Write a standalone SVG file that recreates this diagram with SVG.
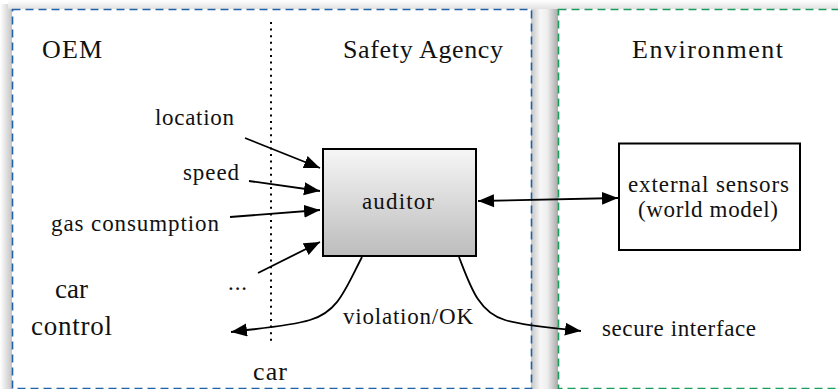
<svg xmlns="http://www.w3.org/2000/svg" width="838" height="389" viewBox="0 0 838 389" font-family="'Liberation Serif', 'DejaVu Serif', 'Times New Roman', serif">
<style>
text{font-family:"Liberation Serif","DejaVu Serif","Times New Roman",serif;fill:#111}
.t{font-size:26px}
.s{font-size:23px}
.b{font-size:27px}
.conn{fill:none;stroke:#000;stroke-width:1.8}
.zone{fill:none;stroke-width:1.6;stroke-dasharray:8 5}
</style>
<defs>
<marker id="ah" markerUnits="userSpaceOnUse" markerWidth="18" markerHeight="14" refX="16" refY="6.5" orient="auto">
<path d="M0,0 L16,6.5 L0,13 Z" fill="#000"/>
</marker>
<marker id="as" markerUnits="userSpaceOnUse" markerWidth="18" markerHeight="14" refX="0" refY="6.5" orient="auto">
<path d="M16,0 L0,6.5 L16,13 Z" fill="#000"/>
</marker>
<linearGradient id="gAud" x1="0" y1="0" x2="0" y2="1">
<stop offset="0" stop-color="#f6f6f6"/>
<stop offset="1" stop-color="#bcbcbc"/>
</linearGradient>
<linearGradient id="gLeft" x1="0" y1="0" x2="1" y2="0">
<stop offset="0" stop-color="#ffffff"/>
<stop offset="1" stop-color="#c4c4c4"/>
</linearGradient>
<linearGradient id="gTop" x1="0" y1="0" x2="0" y2="1">
<stop offset="0" stop-color="#ffffff"/>
<stop offset="1" stop-color="#e2e2e2"/>
</linearGradient>
<linearGradient id="gGap" x1="0" y1="0" x2="1" y2="0">
<stop offset="0" stop-color="#c6c6c6"/>
<stop offset="0.35" stop-color="#f7f7f7"/>
<stop offset="0.6" stop-color="#eeeeee"/>
<stop offset="1" stop-color="#a9a9a9"/>
</linearGradient>
</defs>
<rect width="838" height="389" fill="#fff"/>
<g id="shadows">
<rect x="0" y="4" width="12" height="385" fill="url(#gLeft)"/>
<rect x="8" y="0" width="830" height="9" fill="url(#gTop)"/>
<rect x="531" y="9" width="27" height="380" fill="url(#gGap)"/>
</g>
<g id="zone-oem-safety">
<rect class="zone" x="12.5" y="9.5" width="519" height="379" fill="#fff" stroke="#1f62a8"/>
<line x1="271" y1="22" x2="271" y2="344" stroke="#000" stroke-width="2" stroke-dasharray="2 4.6"/>
<text class="t" x="42" y="58" textLength="60">OEM</text>
<text class="t" x="343" y="58" textLength="160">Safety Agency</text>
</g>
<g id="zone-environment">
<rect class="zone" x="558.5" y="9.5" width="300" height="379" fill="#fff" stroke="#1a9c5c"/>
<text class="t" x="632" y="58" textLength="151">Environment</text>
</g>
<g id="labels">
<text class="s" x="155" y="125" textLength="79">location</text>
<text class="s" x="183" y="180" textLength="56">speed</text>
<text class="s" x="51" y="231" textLength="168">gas consumption</text>
<text class="s" x="228" y="290" textLength="19">...</text>
<text class="b" x="55" y="298" textLength="33">car</text>
<text class="b" x="31" y="335" textLength="81">control</text>
<text class="t" x="253" y="380" textLength="34">car</text>
<text class="s" x="343" y="324" textLength="130">violation/OK</text>
<text class="s" x="602" y="336" textLength="154">secure interface</text>
</g>
<g id="auditor">
<rect x="323" y="149" width="153" height="107" fill="url(#gAud)" stroke="#000" stroke-width="2"/>
<text class="s" x="362" y="209" textLength="72">auditor</text>
</g>
<g id="external-sensors">
<rect x="619" y="143.5" width="181" height="106.5" fill="#fff" stroke="#000" stroke-width="2"/>
<text class="s" x="628" y="192" textLength="161">external sensors</text>
<text class="s" x="638" y="217" textLength="140">(world model)</text>
</g>
<g id="connectors">
<line class="conn" x1="245" y1="138" x2="320" y2="168" marker-end="url(#ah)"/>
<line class="conn" x1="249" y1="181" x2="320" y2="191" marker-end="url(#ah)"/>
<line class="conn" x1="230" y1="217" x2="320" y2="210" marker-end="url(#ah)"/>
<line class="conn" x1="258" y1="273" x2="320" y2="242" marker-end="url(#ah)"/>
<line class="conn" x1="478" y1="201" x2="618" y2="198" marker-start="url(#as)" marker-end="url(#ah)"/>
<path class="conn" d="M362,257 C345,290 338,312 310,320 C290,326 262,328 231,332" marker-end="url(#ah)"/>
<path class="conn" d="M459,257 C470,285 478,312 505,320 C525,326 555,328 581,331" marker-end="url(#ah)"/>
</g>
</svg>
